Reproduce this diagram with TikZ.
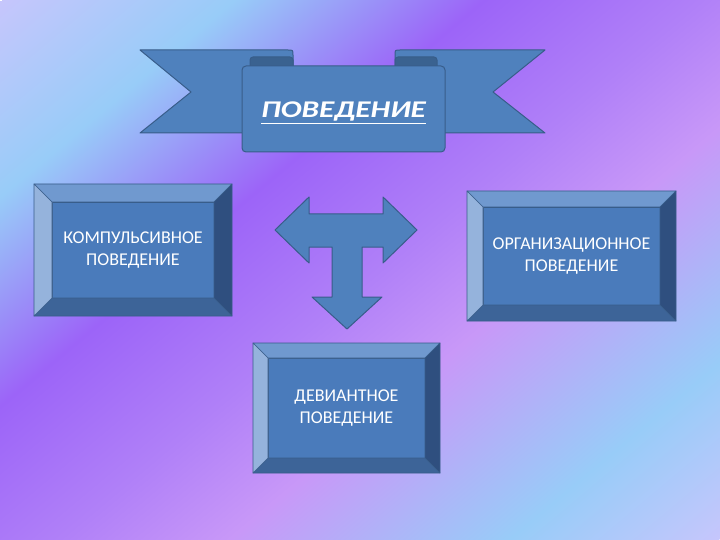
\documentclass[tikz,border=0pt]{standalone}
\usepackage{fontspec}
\setmainfont{Carlito}
\newfontfamily\titelfont[FakeStretch=1.3]{Carlito}
\definecolor{bgA}{HTML}{C6C6FC}
\definecolor{bgB}{HTML}{98CCF8}
\definecolor{bgC}{HTML}{9C64F8}
\definecolor{bgD}{HTML}{B080F8}
\definecolor{bgE}{HTML}{C898F8}
\definecolor{bandblau}{HTML}{4F81BD}
\definecolor{randblau}{HTML}{385D8A}
\definecolor{faltblau}{HTML}{3A6290}
\definecolor{kastenblau}{HTML}{4A7BBB}
\definecolor{kanteoben}{HTML}{7099CF}
\definecolor{kantelinks}{HTML}{95B3DC}
\definecolor{kanterechts}{HTML}{2F4F7F}
\definecolor{kanteunten}{HTML}{3D6498}
\pgfdeclarehorizontalshading{hgverlauf}{900pt}{color(0pt)=(bgA); color(150pt)=(bgB); color(310pt)=(bgC); color(450pt)=(bgD); color(560pt)=(bgE); color(740pt)=(bgB); color(875pt)=(bgA)}
\newcommand{\facette}[2]{%
 \filldraw[kante,fill=kanteoben] (#1.north west)--(#1.north east)--([shift={(#2,-#2)}]#1.north east)--([shift={(-#2,-#2)}]#1.north west)--cycle;
 \filldraw[kante,fill=kanterechts] (#1.north east)--(#1.south east)--([shift={(#2,#2)}]#1.south east)--([shift={(#2,-#2)}]#1.north east)--cycle;
 \filldraw[kante,fill=kanteunten] (#1.south east)--(#1.south west)--([shift={(-#2,#2)}]#1.south west)--([shift={(#2,#2)}]#1.south east)--cycle;
 \filldraw[kante,fill=kantelinks] (#1.south west)--(#1.north west)--([shift={(-#2,-#2)}]#1.north west)--([shift={(-#2,#2)}]#1.south west)--cycle;
}
\begin{document}
\begin{tikzpicture}[x=1pt,y=-1pt,
  band/.style={draw=randblau,fill=bandblau,line width=1pt,line join=round},
  falte/.style={draw=randblau,fill=faltblau,line width=1pt},
  kante/.style={draw=randblau,line width=.6pt,line join=round},
  kasten/.style={draw=randblau,fill=kastenblau,line width=.6pt,outer sep=0pt,inner sep=0pt,text=white,align=center,font=\fontsize{18}{21.6}\selectfont},
  titel/.style={band,rounded corners=4pt,outer sep=0pt,text=white,font=\titelfont\bfseries\itshape\fontsize{24}{24}\selectfont},
  pfeil/.style={draw=randblau,fill=bandblau,line width=1pt,line join=round}]
\useasboundingbox (0,0) rectangle (720,540);
%Hintergrund
\begin{scope}
\clip (0,0) rectangle (720,540);
\node[rotate=-50,inner sep=0pt] (hg) at (360,270) {\pgfuseshading{hgverlauf}};
\end{scope}
%Band
\draw[band] (140,50)--(288,50) .. controls (293,50) .. (293,55)--(293,133)--(140,133)--(191,92)--cycle;
\draw[band] (545,50)--(400,50) .. controls (395,50) .. (395,55)--(395,133)--(545,133)--(493,92)--cycle;
\draw[falte,rounded corners=3pt] (250,57) rectangle (293,72);
\draw[falte,rounded corners=3pt] (395,57) rectangle (437,72);
\node[titel,minimum width=203pt,minimum height=86pt] (band) at (343.5,109) {\raisebox{-9pt}[0pt][0pt]{\underline{ПОВЕДЕНИЕ}}};
%Kaesten
\node[kasten,minimum width=162pt,minimum height=96pt] (komp) at (133,250) {КОМПУЛЬСИВНОЕ\\ПОВЕДЕНИЕ};
\facette{komp}{18}
\node[kasten,minimum width=177pt,minimum height=98pt] (org) at (571.5,256) {ОРГАНИЗАЦИОННОЕ\\ПОВЕДЕНИЕ};
\facette{org}{16}
\node[kasten,minimum width=157pt,minimum height=100pt] (dev) at (346.5,408) {ДЕВИАНТНОЕ\\ПОВЕДЕНИЕ};
\facette{dev}{15}
%Pfeil
\draw[pfeil] (275,230)--(309,197)--(309,214)--(383,214)--(383,197)--(417,230)--(383,263)--(383,247)--(362,247)--(362,297)--(382,297)--(347,329)--(312,297)--(332,297)--(332,247)--(309,247)--(309,263)--cycle;
\end{tikzpicture}
\end{document}
